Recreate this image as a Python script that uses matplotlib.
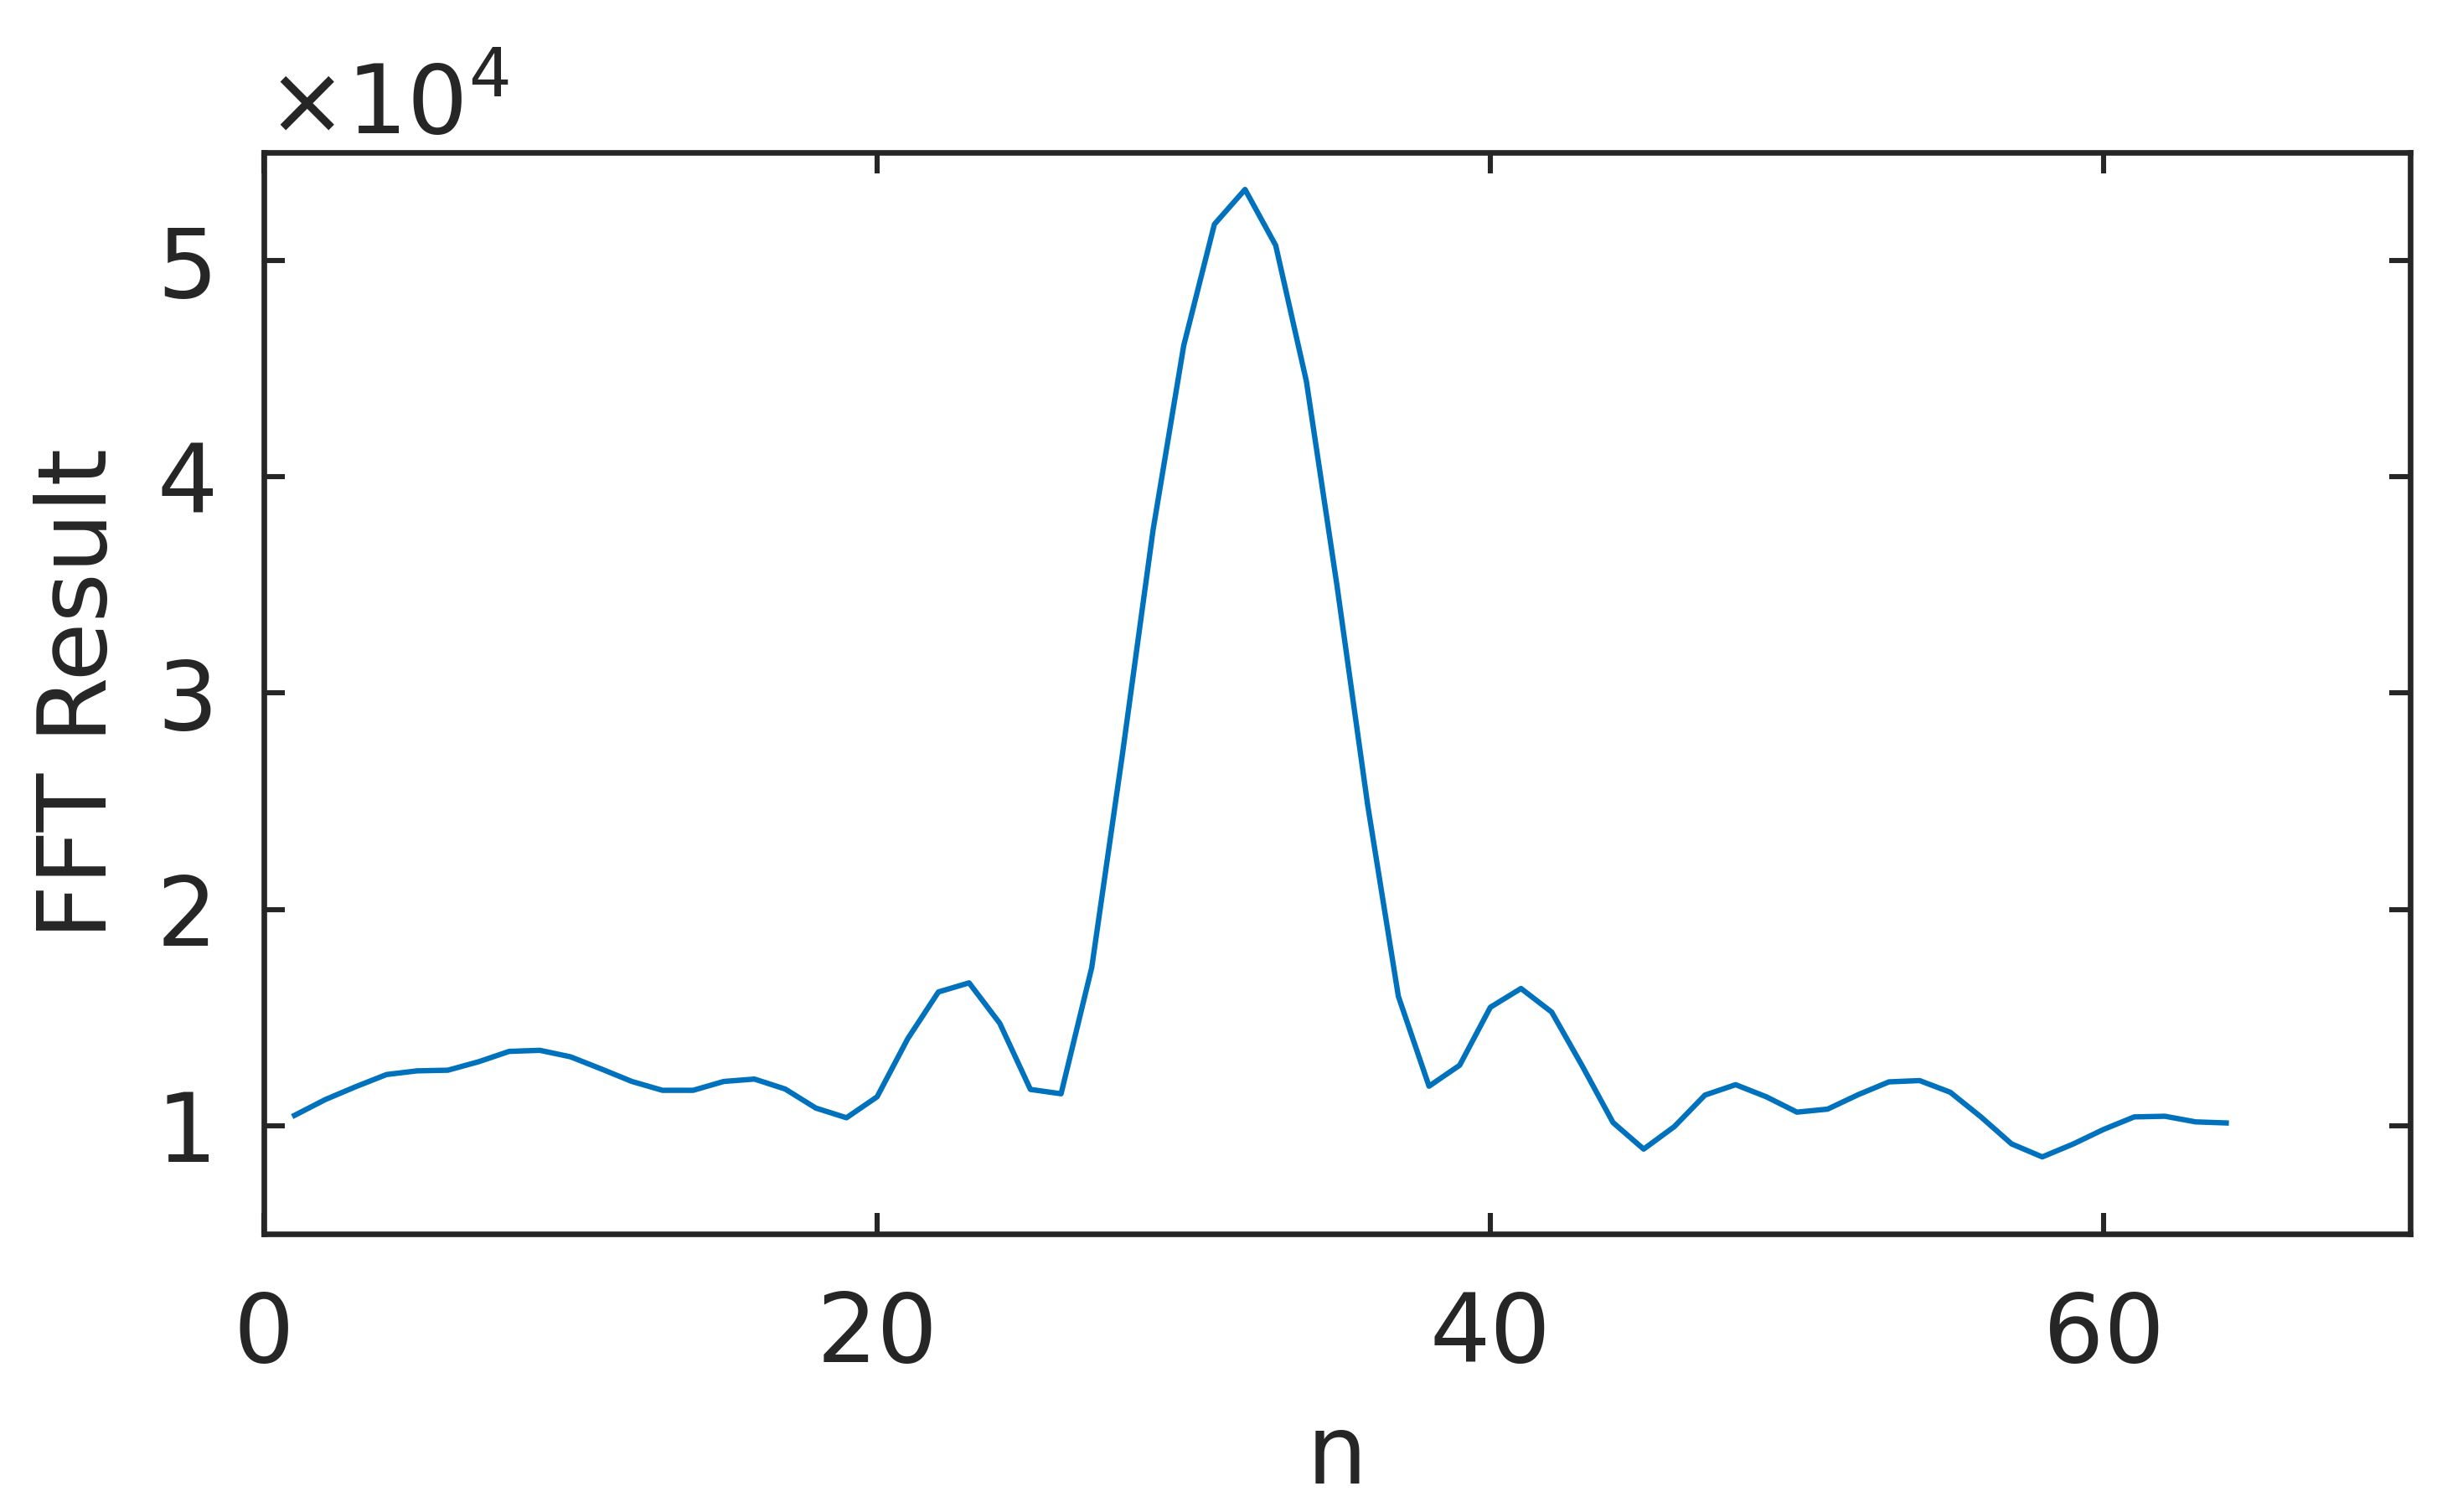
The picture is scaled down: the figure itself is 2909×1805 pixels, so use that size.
import matplotlib
matplotlib.use('Agg')
import matplotlib.pyplot as plt

n = list(range(1, 65))
fft_result_e4 = [
    1.047, 1.120, 1.180, 1.236, 1.253, 1.256, 1.295, 1.343, 1.348, 1.318,
    1.262, 1.204, 1.163, 1.163, 1.204, 1.215, 1.169, 1.081, 1.036, 1.133,
    1.402, 1.618, 1.660, 1.473, 1.167, 1.147, 1.731, 2.717, 3.755, 4.608,
    5.169, 5.330, 5.071, 4.443, 3.496, 2.482, 1.598, 1.182, 1.279, 1.547,
    1.634, 1.525, 1.275, 1.014, 0.891, 0.995, 1.141, 1.189, 1.133, 1.062,
    1.076, 1.143, 1.202, 1.208, 1.154, 1.040, 0.915, 0.855, 0.914, 0.982,
    1.040, 1.043, 1.017, 1.012,
]
fft_result = [v * 1e4 for v in fft_result_e4]

x_ticks = [0, 20, 40, 60]
y_ticks = [1e4, 2e4, 3e4, 4e4, 5e4]
y_tick_labels = ['1', '2', '3', '4', '5']

plt.rcParams['font.family'] = ['DejaVu Sans']
plt.rcParams['mathtext.fontset'] = 'dejavusans'

DPI = 200
fig = plt.figure(figsize=(2909 / DPI, 1805 / DPI), dpi=DPI)
ax = fig.add_axes([315 / 2909, 1 - 1472.7 / 1805, (2877 - 315) / 2909, (1472.7 - 182.3) / 1805])

ax.plot(n, fft_result, color='#0072BD', lw=2.3)
ax.set_xlim(0, 70)
ax.set_ylim(0.5e4, 5.5e4)
ax.set_xticks(x_ticks)
ax.set_yticks(y_ticks)
ax.set_yticklabels(y_tick_labels)

fs = 41
dark = '#262626'
ax.tick_params(direction='in', length=9, width=2.2, top=True, right=True,
               labelsize=fs, colors=dark)
ax.tick_params(axis='x', pad=24)
ax.tick_params(axis='y', pad=20)
for s in ax.spines.values():
    s.set_linewidth(2.4)
    s.set_color(dark)

# exponent label above the y axis
ax.annotate(r'$\times\mathdefault{10^{4}}$', xy=(0, 1), xycoords='axes fraction',
            xytext=(1, 8), textcoords='offset points', ha='left', va='baseline',
            fontsize=fs, color=dark)

ax.set_xlabel('n', fontsize=fs, color=dark, labelpad=12)
ax.set_ylabel('FFT Result', fontsize=fs, color=dark, labelpad=13)

fig.savefig('out.png', dpi=DPI)
